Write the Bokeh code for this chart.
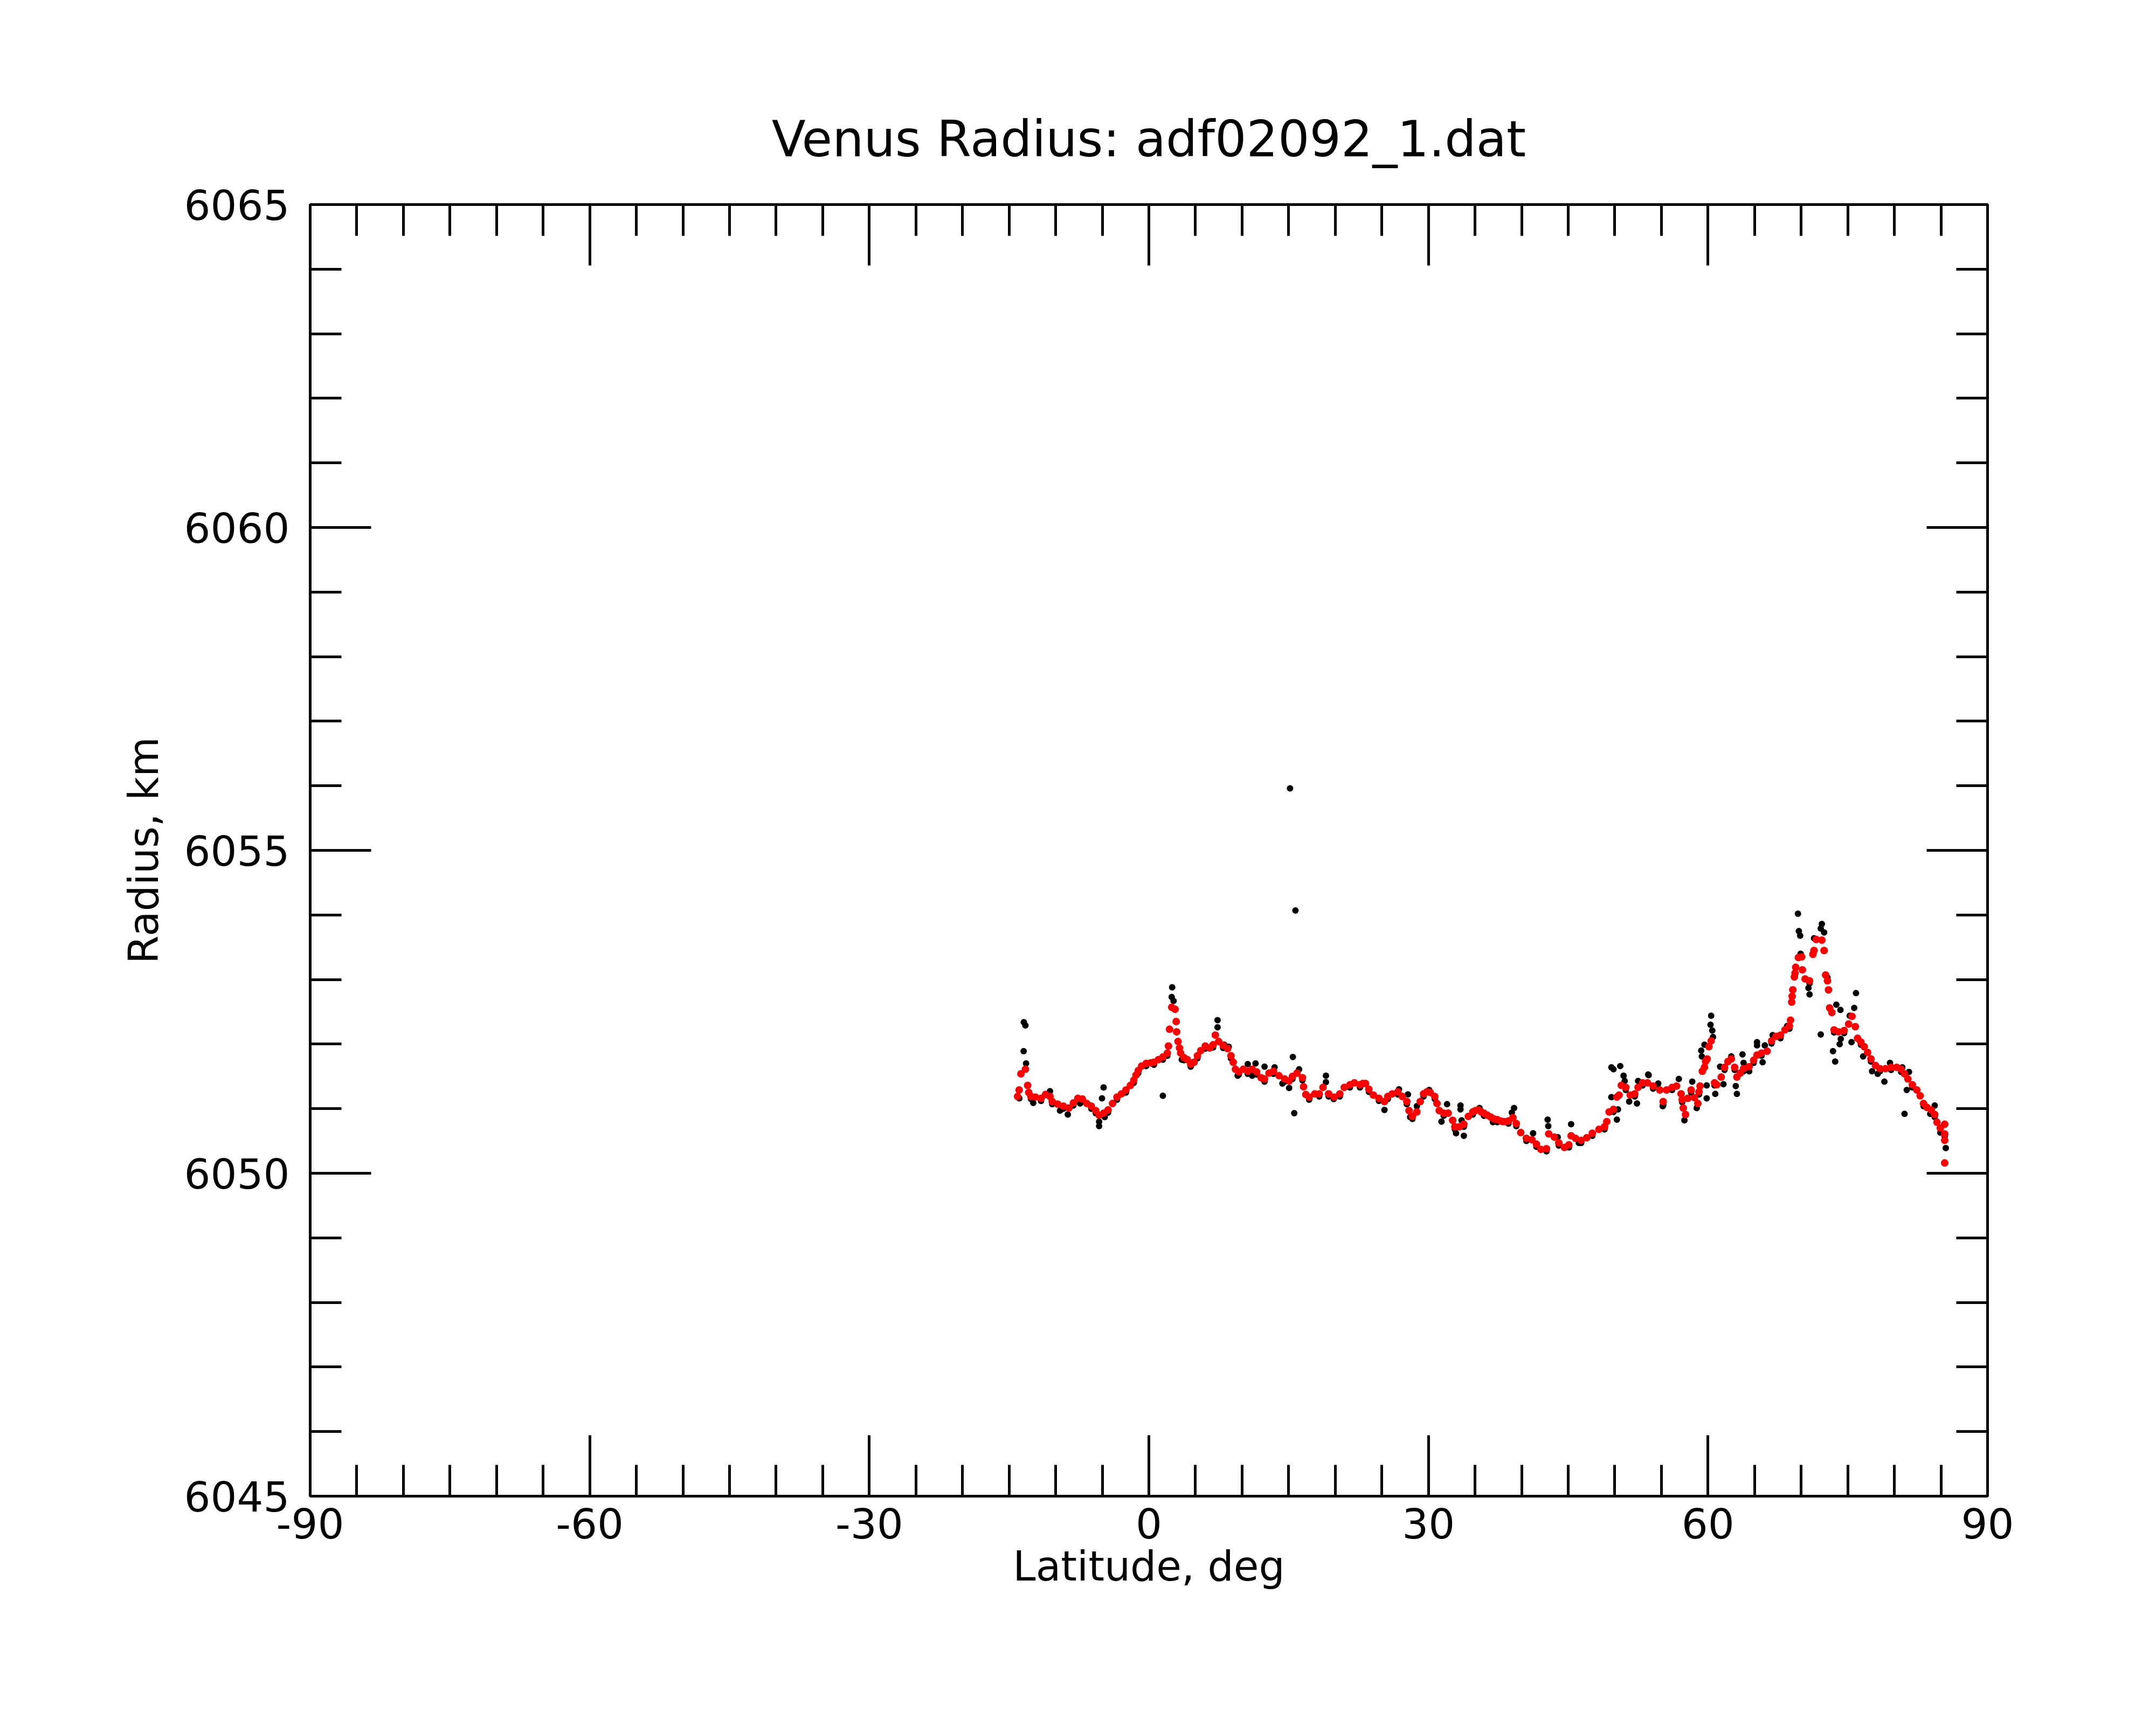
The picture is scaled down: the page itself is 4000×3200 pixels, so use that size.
from bokeh.plotting import figure
from bokeh.models import Range1d, LinearAxis, FixedTicker
from bokeh.embed import file_html
from bokeh.resources import INLINE

# ---- data ----
title_text = "Venus Radius: adf02092_1.dat"
x_label = "Latitude, deg"
y_label = "Radius, km"
x_major = [-90, -60, -30, 0, 30, 60, 90]
x_minor = list(range(-90, 91, 5))
y_major = [6045, 6050, 6055, 6060, 6065]
y_minor = list(range(6045, 6066, 1))

red_lat = [
    -14.09, -13.92, -13.73, -13.25, -13.01, -12.89, -12.65, -12.17, -11.57, -11.09, -10.61, -10.37,
    -9.78, -9.18, -8.58, -8.10, -7.62, -7.14, -6.66, -6.18, -5.70, -5.34, -4.86, -4.38, -3.90,
    -3.42, -2.94, -2.46, -1.98, -1.62, -1.38, -1.14, -0.78, -0.30, 0.18, 0.54, 1.02, 1.50, 1.98,
    2.10, 2.22, 2.45, 2.81, 2.93, 2.98, 3.13, 3.29, 3.41, 3.77, 4.13, 4.49, 4.85, 5.21, 5.57,
    6.05, 6.53, 6.89, 7.13, 7.49, 7.97, 8.45, 8.81, 9.05, 9.29, 9.65, 10.13, 10.61, 11.09, 11.57,
    12.05, 12.41, 12.89, 13.37, 13.97, 14.57, 15.05, 15.41, 15.89, 16.48, 16.60, 16.84, 17.20,
    17.80, 18.28,
    18.69, 19.29, 19.89, 20.49, 20.97, 21.57, 22.05, 22.65, 22.96, 23.25, 23.61, 24.09, 24.69,
    25.28, 25.64, 26.12, 26.72, 27.20, 27.68, 27.92, 28.28, 28.76, 29.12, 29.48, 29.84, 30.20,
    30.68, 30.92, 31.16, 31.64, 32.12, 32.60, 32.84, 33.32, 33.80, 34.28, 34.76, 35.04, 35.36,
    35.67, 35.96, 36.32, 36.68, 37.04, 37.39, 37.75, 37.99, 38.31, 38.59, 39.07, 39.43, 39.91,
    40.51, 41.11, 41.59, 42.07, 42.67, 42.91, 43.51, 43.99, 44.59, 45.07, 45.31, 45.79, 46.39,
    46.99, 47.59, 48.30, 48.90, 49.14, 49.39, 49.86, 50.22, 50.46, 50.70, 51.18, 51.66, 52.14,
    52.50, 52.98,
    53.51, 54.11, 54.83, 55.19, 55.55, 56.15, 56.63, 57.11, 57.23, 57.35, 57.59, 57.83, 58.19,
    58.55, 58.91, 59.03, 59.15, 59.39, 59.62, 59.74, 59.91, 60.10, 60.34, 60.70, 60.94, 61.42,
    61.78, 62.14, 62.50, 62.86, 63.10, 63.46, 63.82, 64.42, 64.90, 65.26, 65.74, 66.34, 66.82,
    67.30, 67.78, 68.26, 68.74, 68.86, 68.98, 69.03, 69.10, 69.27, 69.34, 69.41, 69.70, 70.06,
    70.13, 70.42, 70.90, 71.26, 71.38, 71.62, 72.22, 72.46, 72.62, 72.82, 72.93, 73.05, 73.29,
    73.53, 74.01, 74.61, 75.09, 75.45, 75.81, 76.05, 76.41, 76.77, 77.13, 77.49, 77.97, 78.45,
    79.05, 79.65, 80.25, 80.73, 81.09, 81.45, 81.93, 82.41, 82.77, 83.13, 83.49, 83.97, 84.33,
    84.57, 84.93, 85.40, 85.40, 85.40, 85.40,
]
red_radius = [
    6051.19, 6051.29, 6051.54, 6051.61, 6051.36, 6051.25, 6051.19, 6051.18, 6051.16, 6051.22,
    6051.19, 6051.11, 6051.07, 6051.04, 6051.01, 6051.09, 6051.16, 6051.15, 6051.08, 6051.04,
    6050.97, 6050.90, 6050.93, 6050.98, 6051.08, 6051.18, 6051.23, 6051.29, 6051.36, 6051.44,
    6051.52, 6051.59, 6051.66, 6051.70, 6051.71, 6051.72, 6051.76, 6051.80, 6051.86, 6051.97,
    6052.23, 6052.57, 6052.54, 6052.35, 6052.19, 6052.04, 6051.94, 6051.86, 6051.79, 6051.76,
    6051.69, 6051.72, 6051.82, 6051.90, 6051.97, 6051.94, 6051.99, 6052.14, 6052.04, 6051.98,
    6051.93, 6051.82, 6051.72, 6051.61, 6051.57, 6051.61, 6051.58, 6051.61, 6051.57, 6051.48,
    6051.46, 6051.55, 6051.58, 6051.51, 6051.46, 6051.43, 6051.50, 6051.55, 6051.48, 6051.34,
    6051.22, 6051.18, 6051.23, 6051.23,
    6051.33, 6051.23, 6051.18, 6051.23, 6051.33, 6051.37, 6051.40, 6051.37, 6051.39, 6051.39,
    6051.30, 6051.21, 6051.16, 6051.11, 6051.19, 6051.23, 6051.26, 6051.19, 6051.11, 6050.97,
    6050.88, 6050.95, 6051.11, 6051.23, 6051.26, 6051.25, 6051.19, 6051.08, 6050.97, 6050.93,
    6050.93, 6050.82, 6050.72, 6050.72, 6050.76, 6050.88, 6050.95, 6050.97, 6050.98, 6050.95,
    6050.93, 6050.90, 6050.87, 6050.84, 6050.83, 6050.81, 6050.80, 6050.80, 6050.81, 6050.86,
    6050.77, 6050.63, 6050.54, 6050.52, 6050.45, 6050.37, 6050.38, 6050.61, 6050.56, 6050.47,
    6050.40, 6050.44, 6050.58, 6050.54, 6050.51, 6050.55, 6050.62, 6050.68, 6050.72, 6050.80,
    6050.95, 6050.99, 6051.18, 6051.21, 6051.36, 6051.33, 6051.21, 6051.23, 6051.33, 6051.40,
    6051.40, 6051.35, 6051.29, 6051.11, 6051.29, 6051.33, 6051.35, 6051.23, 6051.14, 6051.01,
    6050.91, 6051.16, 6051.29, 6051.17, 6051.08, 6051.26, 6051.35, 6051.58, 6051.64, 6051.73,
    6051.77, 6051.96, 6052.05, 6051.40, 6051.37, 6051.49, 6051.64, 6051.73, 6051.77, 6051.64,
    6051.49, 6051.55, 6051.62, 6051.65, 6051.75, 6051.83, 6051.86, 6051.89, 6052.05, 6052.12,
    6052.14, 6052.22, 6052.28, 6052.37, 6052.65, 6052.74, 6052.84, 6053.04, 6053.10, 6053.19,
    6053.34, 6053.35, 6053.15, 6053.01, 6052.98, 6053.39, 6053.45, 6053.62, 6053.61, 6053.45,
    6053.07, 6052.98, 6052.84, 6052.56, 6052.49, 6052.22, 6052.19, 6052.21, 6052.31, 6052.43,
    6052.27, 6052.09, 6052.03, 6051.96, 6051.87, 6051.77, 6051.67, 6051.62, 6051.62, 6051.64,
    6051.64, 6051.61, 6051.54, 6051.46, 6051.37, 6051.29, 6051.20, 6051.08, 6051.02, 6050.98,
    6050.91, 6050.79, 6050.70, 6050.76, 6050.61, 6050.51, 6050.16,
]

black_lat = [
    -13.42, -13.25, -13.44, -13.18, -13.90, -12.41, -9.54, -8.70, -10.61, -7.38, -5.34, -5.34,
    -4.86, -5.03, -4.74, 1.50, 2.50, 2.45, 2.65, 3.53, 7.37, 7.37, 8.09, 8.57, 9.53, 10.61,
    11.09, 11.45, 12.41, 13.49, 14.33, 15.45, 15.05, 15.60, 16.12, 19.00, 19.00, 19.84, 15.15,
    15.73,
    25.28, 26.84, 27.80, 28.04, 28.76, 30.08, 32.00, 31.40, 33.44, 33.44, 33.56, 32.96, 33.80,
    35.48, 36.92, 39.19, 38.95, 41.23, 42.79, 42.86, 43.87, 45.31, 46.15, 48.78, 49.63, 49.86,
    50.58, 50.94, 49.63, 50.34, 50.22, 51.54, 52.38, 52.50, 53.58, 54.66, 55.14, 51.06,
    53.63, 55.19, 54.59, 56.87, 57.47, 58.31, 58.79, 59.86, 59.86, 59.27, 59.34, 59.62, 60.34,
    60.27, 60.46, 60.54, 60.78, 61.66, 61.30, 62.50, 63.10, 62.98, 63.70, 63.82, 64.42, 65.26,
    65.26, 65.86, 66.10, 66.94, 67.78, 68.50, 69.65, 69.75, 69.89, 69.94, 70.78, 70.90, 72.22,
    72.10, 72.46, 71.38, 72.10, 72.82, 73.41, 73.65, 73.77, 74.21, 74.25, 74.13, 75.88, 75.69,
    75.40, 75.21, 76.65, 77.61, 78.21, 78.93, 79.53, 80.85, 81.33, 81.09, 81.57, 84.33, 83.85,
    84.93, 85.52,
    -12.65, -11.57, -10.37, -9.18, -8.10, -7.14, -6.18, -5.70, -4.38, -3.42, -2.46, -1.62, -1.14,
    -0.30, 0.54, 1.50, 1.98, 3.77, 4.49, 5.21, 6.05, 6.89, 7.97, 8.81, 9.65, 10.61, 11.57, 12.41,
    13.37, 14.57, 15.41, 16.48, 17.20, 18.28,
    19.29, 20.49, 21.57, 22.65, 23.61, 24.69, 25.64, 26.72, 27.68, 28.28, 29.48, 30.68, 31.64,
    32.84, 33.80, 34.76, 35.96, 37.39, 38.59, 39.43, 40.51, 41.59, 42.67, 43.99, 45.07, 46.39,
    47.59, 48.90, 49.86, 51.18, 52.14, 52.98,
    54.11, 55.19, 56.15, 57.23, 58.19, 59.03, 60.70, 61.78, 62.86, 63.82, 64.90, 65.74, 66.82,
    67.78, 68.74, 70.90, 73.53, 74.61, 76.41, 77.49, 78.45, 79.65, 80.73, 81.93, 83.13, 84.33,
    85.40,
]
black_radius = [
    6052.34, 6052.29, 6051.89, 6051.70, 6051.16, 6051.09, 6050.97, 6050.91, 6051.27, 6051.08,
    6050.73, 6050.80, 6051.33, 6051.16, 6050.87, 6051.20, 6052.88, 6052.73, 6052.67, 6051.76,
    6052.37, 6052.26, 6051.99, 6051.96, 6051.51, 6051.69, 6051.51, 6051.70, 6051.65, 6051.64,
    6051.39, 6051.80, 6051.32, 6050.93, 6051.61, 6051.51, 6051.41, 6051.15, 6055.96, 6054.07,
    6050.98, 6051.30, 6051.22, 6050.87, 6051.04, 6051.29, 6051.07, 6050.80, 6051.05, 6050.99,
    6050.82, 6050.62, 6050.58, 6051.01, 6050.79, 6051.01, 6050.94, 6050.62, 6050.83, 6050.73,
    6050.56, 6050.76, 6050.47, 6050.69, 6051.64, 6051.61, 6051.66, 6051.51, 6051.18, 6050.99,
    6050.83, 6051.11, 6051.08, 6051.43, 6051.53, 6051.39, 6051.04, 6051.43,
    6051.52, 6051.05, 6051.37, 6051.46, 6050.82, 6051.42, 6051.01, 6051.16, 6051.36, 6051.90,
    6051.81, 6051.99, 6052.44, 6052.30, 6052.21, 6052.11, 6051.23, 6051.38, 6051.65, 6051.81,
    6051.23, 6051.35, 6051.84, 6051.71, 6051.58, 6052.03, 6051.98, 6051.72, 6051.98, 6052.14,
    6052.09, 6052.28, 6054.02, 6053.75, 6053.68, 6053.40, 6052.87, 6052.77, 6053.86, 6053.79,
    6053.73, 6053.64, 6052.15, 6053.03, 6051.89, 6051.73, 6052.61, 6052.53, 6052.08, 6052.00,
    6052.79, 6052.56, 6052.03, 6052.44, 6051.81, 6051.58, 6051.54, 6051.42, 6051.71, 6051.64,
    6051.29, 6050.92, 6051.57, 6051.05, 6050.92, 6050.63, 6050.39,
    6051.15, 6051.12, 6051.07, 6051.00, 6051.05, 6051.11, 6051.00, 6050.93, 6050.94, 6051.14,
    6051.25, 6051.40, 6051.55, 6051.66, 6051.68, 6051.76, 6051.82, 6051.75, 6051.65, 6051.78,
    6051.93, 6051.95, 6051.94, 6051.78, 6051.53, 6051.54, 6051.53, 6051.42, 6051.54, 6051.42,
    6051.46, 6051.44, 6051.14, 6051.19,
    6051.19, 6051.19, 6051.33, 6051.33, 6051.26, 6051.12, 6051.15, 6051.22, 6051.07, 6050.84,
    6051.19, 6051.15, 6050.89, 6050.68, 6050.72, 6050.91, 6050.89, 6050.79, 6050.77, 6050.73,
    6050.50, 6050.41, 6050.34, 6050.43, 6050.40, 6050.47, 6050.58, 6050.68, 6050.95, 6051.29,
    6051.19, 6051.36,
    6051.31, 6051.07, 6051.29, 6051.10, 6051.25, 6051.22, 6051.36, 6051.60, 6051.60, 6051.58,
    6051.71, 6051.82, 6052.01, 6052.10, 6052.24, 6052.94, 6052.18, 6052.17, 6051.99, 6051.73,
    6051.58, 6051.60, 6051.57, 6051.33, 6051.04, 6050.87, 6050.57,
]

FONT = "DejaVu Sans"

p = figure(width=3984, height=3184,
           x_range=Range1d(-90, 90), y_range=Range1d(6045, 6065),
           output_backend="svg", toolbar_location=None,
           min_border_left=575, min_border_right=297,
           min_border_top=379, min_border_bottom=409,
           x_axis_label=x_label, y_axis_label=y_label)
p.grid.visible = False
p.outline_line_color = "black"
p.outline_line_width = 5
p.background_fill_color = "white"
p.border_fill_color = "white"

p.title.text = title_text
p.title.text_font = FONT
p.title.text_font_size = "92px"
p.title.text_font_style = "normal"
p.title.text_color = "black"
p.title.align = "center"
p.title.standoff = 135


def style_axis(ax, ticks, minor, labels):
    ax.ticker = FixedTicker(ticks=ticks, minor_ticks=minor)
    ax.axis_line_width = 5
    ax.axis_line_color = "black"
    ax.major_tick_line_width = 5
    ax.minor_tick_line_width = 5
    ax.major_tick_line_color = "black"
    ax.minor_tick_line_color = "black"
    ax.major_tick_in = 113
    ax.major_tick_out = 0
    ax.minor_tick_in = 58
    ax.minor_tick_out = 0
    ax.major_label_text_font = FONT
    ax.axis_label_text_font = FONT
    ax.axis_label_text_font_style = "normal"
    ax.axis_label_text_font_size = "76px"
    ax.axis_label_text_color = "black"
    ax.major_label_overrides = {t: str(t) for t in ticks}
    if labels:
        ax.major_label_text_font_size = "77px"
        ax.major_label_text_color = "black"
    else:
        ax.major_label_text_font_size = "1px"
        ax.major_label_text_color = None
        ax.major_label_standoff = 0


style_axis(p.xaxis[0], x_major, x_minor, True)
style_axis(p.yaxis[0], y_major, y_minor, True)
p.xaxis[0].major_label_standoff = 22
p.yaxis[0].major_label_standoff = 38
p.xaxis[0].axis_label_standoff = 4
p.yaxis[0].axis_label_standoff = 28

top_ax = LinearAxis()
right_ax = LinearAxis()
style_axis(top_ax, x_major, x_minor, False)
style_axis(right_ax, y_major, y_minor, False)
p.add_layout(top_ax, "above")
p.add_layout(right_ax, "right")

p.scatter(black_lat, black_radius, marker="circle", size=12,
          fill_color="black", line_color="black", line_width=0)
p.scatter(red_lat, red_radius, marker="circle", size=14,
          fill_color="red", line_color="red", line_width=0)

open("out.html", "w").write(file_html(p, INLINE))
